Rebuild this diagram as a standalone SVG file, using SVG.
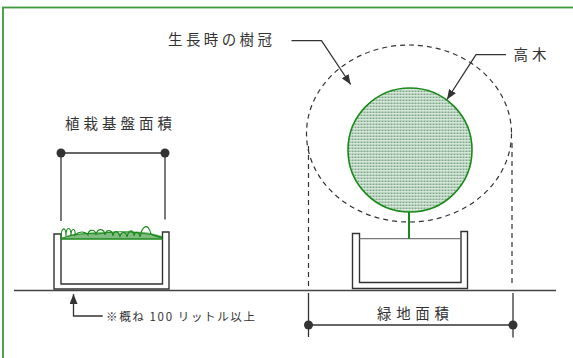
<svg xmlns="http://www.w3.org/2000/svg" width="573" height="358" viewBox="0 0 573 358">
  <style>
    .line { stroke: #333; stroke-width: 1.3; fill: none; }
    .dash { stroke: #333; stroke-width: 1.2; fill: none; stroke-dasharray: 5 4; }
    .dot { fill: #333; }
    .wall { fill: #fff; stroke: #333; stroke-width: 1.4; }
    .label { font-family: "Noto Sans CJK JP", "Noto Sans", sans-serif; font-size: 14.5px; fill: #333; }
    .note { font-family: "Noto Sans CJK JP", "Noto Sans", sans-serif; font-size: 11.5px; fill: #333; }
  </style>
  <defs>
    <pattern id="foliage" width="3" height="3" patternUnits="userSpaceOnUse">
      <rect width="3" height="3" fill="#dcebdf"/>
      <rect x="0.5" y="0.5" width="2" height="1.6" fill="#7ea88a"/>
    </pattern>
    <marker id="arrow" viewBox="0 0 10 8" refX="10" refY="4" markerWidth="10" markerHeight="8" markerUnits="userSpaceOnUse" orient="auto">
      <path d="M0,0 L10,4 L0,8 Z" fill="#333"/>
    </marker>
  </defs>

  <!-- frame -->
  <rect x="3" y="7.5" width="700" height="500" fill="none" stroke="#3d9a3d" stroke-width="1.8"/>

  <!-- ground -->
  <line x1="14" y1="290.5" x2="556" y2="290.5" stroke="#444" stroke-width="1.5"/>

  <!-- planter with ground cover -->
  <g id="planter-left">
    <path class="wall" d="M54,234 L54,289 L169,289 L169,232 L162.5,232 L162.5,284 L61,284 L61,234 Z" stroke="#555" stroke-width="1.2"/>
    <path d="M61,239 Q70,233 80,234 Q100,230 120,233 Q140,229 162,236 L162,239 Z" fill="#4f9f4f" fill-opacity="0.7"/>
    <path d="M61,239 C61,226 66,226 66,236 C66,226 71,226 71,236 C71,227 76,228 75,235 C79,231 85,231 88,235 C88,230 94,228 96,234 C98,228 104,228 105,235 C106,229 112,229 113,236 C114,230 118,230 120,237 C121,231 126,231 127,237 C129,229 133,229 134,236 C135,231 139,231 140,237 C142,226 148,222 151,234 C154,236 158,237 162,238" fill="none" stroke="#1a8a1a" stroke-width="1.1"/>
    <path d="M62,238 Q80,232 98,234 Q120,230 140,233 Q152,234 162,237" fill="none" stroke="#1a8a1a" stroke-width="1"/>
    <line x1="61" y1="239" x2="162.5" y2="239" stroke="#1a8a1a" stroke-width="1.3"/>
  </g>

  <!-- planter with tree -->
  <g id="planter-right">
    <path class="wall" d="M352.5,233.5 L352.5,288.5 L467.5,288.5 L467.5,231.5 L461,231.5 L461,282.5 L359.5,282.5 L359.5,233.5 Z" stroke="#222" stroke-width="1.5"/>
    <line x1="359.5" y1="238.7" x2="461" y2="238.7" stroke="#777" stroke-width="1.3"/>
  </g>

  <g id="tree">
    <line x1="409" y1="211" x2="409" y2="238.7" stroke="#1a8a1a" stroke-width="2"/>
    <circle cx="410" cy="150" r="62" fill="url(#foliage)" stroke="#1a8a1a" stroke-width="1.6"/>
  </g>

  <g id="crown-mature">
    <ellipse class="dash" cx="409" cy="133.5" rx="102.5" ry="88.5"/>
    <line class="dash" x1="308.5" y1="146" x2="308.5" y2="287"/>
    <line class="dash" x1="512" y1="143" x2="512" y2="287"/>
  </g>

  <!-- labels -->
  <g id="label-crown">
    <text class="label" x="168" y="44.5" textLength="104" lengthAdjust="spacing">生長時の樹冠</text>
  </g>
  <g id="label-tree">
    <text class="label" x="513.5" y="59.5" textLength="33" lengthAdjust="spacing">高木</text>
  </g>
  <g id="label-base">
    <text class="label" x="65" y="128.5" textLength="107" lengthAdjust="spacing">植栽基盤面積</text>
  </g>
  <g id="label-green">
    <text class="label" x="377" y="318.5" textLength="72" lengthAdjust="spacing">緑地面積</text>
  </g>
  <g id="label-note">
    <text class="note" x="106" y="320.5" textLength="149" lengthAdjust="spacing">※概ね 100 リットル以上</text>
  </g>

  <!-- connectors and dimension lines -->
  <g id="connectors">
    <polyline class="line" points="291.5,40.7 321.5,40.7 350.7,84.5" marker-end="url(#arrow)"/>
    <polyline class="line" points="506,54.7 476,54.7 447,99.5" marker-end="url(#arrow)"/>
    <polyline class="line" points="102.7,316 73.5,316 73.5,294" marker-end="url(#arrow)"/>

    <line class="line" x1="61" y1="152" x2="61" y2="221"/>
    <line class="line" x1="165" y1="152" x2="165" y2="219.5"/>
    <line class="line" x1="61" y1="153" x2="165" y2="153"/>
    <circle class="dot" cx="61" cy="153" r="4.5"/>
    <circle class="dot" cx="165" cy="153" r="4.5"/>

    <line class="line" x1="308.5" y1="293" x2="308.5" y2="337"/>
    <line class="line" x1="513" y1="293" x2="513" y2="337.5"/>
    <line class="line" x1="308.5" y1="325" x2="513" y2="325"/>
    <circle class="dot" cx="308.5" cy="325" r="4.5"/>
    <circle class="dot" cx="513" cy="325" r="4.5"/>
  </g>
</svg>
